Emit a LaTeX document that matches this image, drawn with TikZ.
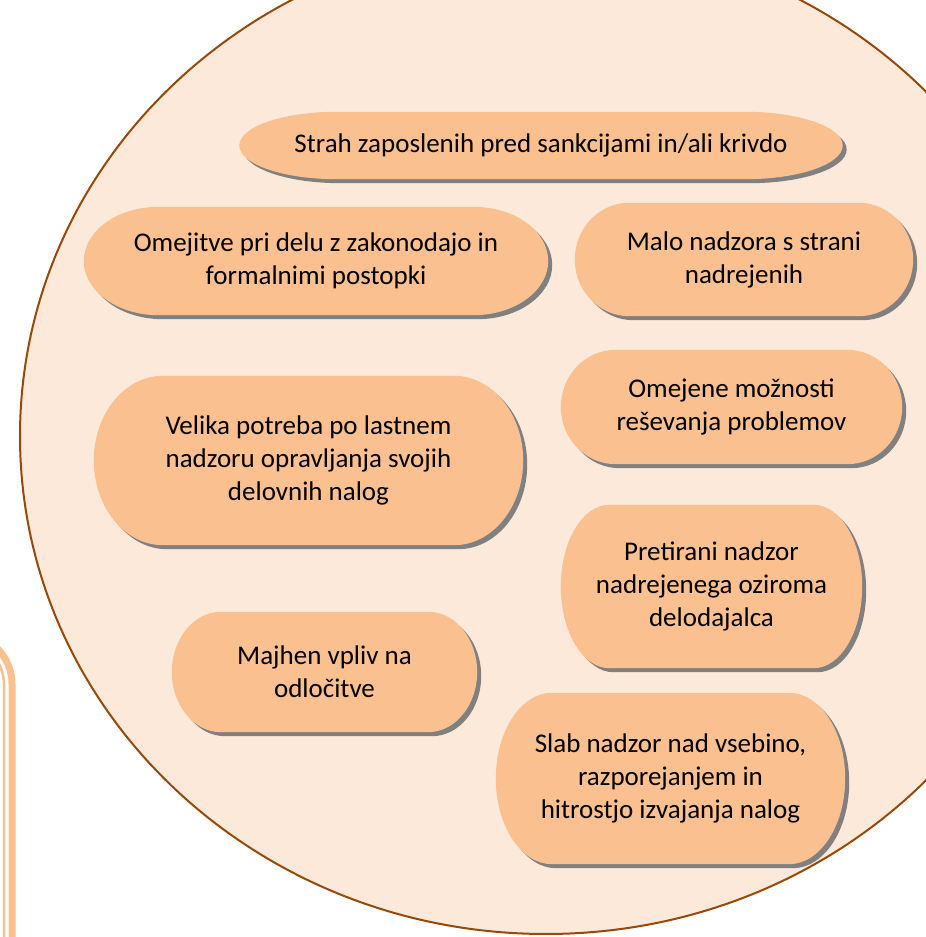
\documentclass[tikz,border=0pt]{standalone}
\usepackage{fontspec}
\setmainfont{Carlito}
\usetikzlibrary{calc,backgrounds}

\definecolor{polje}{HTML}{FAC090}
\definecolor{ozadje}{HTML}{FDE9D9}
\definecolor{obroba}{HTML}{984807}
\definecolor{senca}{HTML}{808080}

% Obris zaobljenega polja (konca sta polelipsi)
\newcommand{\pillpath}[1]{%
  let \p1=(#1.north west), \p2=(#1.south east),
      \n1={0.161*(\x2-\x1)}, \n2={(\y1-\y2)/2} in
  ({\x1+\n1},\y1) -- ({\x2-\n1},\y1)
  arc[start angle=90, end angle=-90, x radius=\n1, y radius=\n2]
  -- ({\x1+\n1},\y2)
  arc[start angle=270, end angle=90, x radius=\n1, y radius=\n2] -- cycle}

\begin{document}
\begin{tikzpicture}[x=1pt,y=1pt,
  pill/.style={inner sep=0pt, align=center, text=black,
    font=\fontsize{27}{33}\selectfont},
  kreis/.style={fill=ozadje, draw=obroba, line width=2pt},
  okvir/.style={draw=polje}]
  \useasboundingbox (0,0) rectangle (926,937);
  %Polja
  \node[pill, minimum width=603pt, minimum height=67pt] (strah) at (541,791.5)
    {Strah zaposlenih pred sankcijami in/ali krivdo};
  \node[pill, minimum width=464pt, minimum height=108pt] (omejitve) at (316,676)
    {Omejitve pri delu z zakonodajo in\\formalnimi postopki};
  \node[pill, minimum width=338pt, minimum height=113pt] (malo) at (744,677.5)
    {Malo nadzora s strani\\nadrejenih};
  \node[pill, minimum width=341pt, minimum height=114pt] (moznosti) at (731.5,530)
    {Omejene možnosti\\reševanja problemov};
  \node[pill, minimum width=429pt, minimum height=169pt] (velika) at (308.5,476.5)
    {Velika potreba po lastnem\\nadzoru opravljanja svojih\\delovnih nalog};
  \node[pill, minimum width=301pt, minimum height=163pt] (pretirani) at (711.5,350.5)
    {Pretirani nadzor\\nadrejenega oziroma\\delodajalca};
  \node[pill, minimum width=305pt, minimum height=120pt] (majhen) at (324.5,265)
    {Majhen vpliv na\\odločitve};
  \node[pill, minimum width=349pt, minimum height=171pt] (slab) at (670.5,158.5)
    {Slab nadzor nad vsebino,\\razporejanjem in\\hitrostjo izvajanja nalog};
  \begin{pgfonlayer}{background}
    \clip (0,0) rectangle (926,937);
    %Ozadje
    \draw[kreis] (546,501) ellipse [x radius=526, y radius=498];
    %Okvir levo spodaj
    \draw[okvir, line width=7pt] (12,0) -- (12,253) arc[start angle=0, end angle=90, radius=50];
    \draw[okvir, line width=2.5pt] (4,0) -- (4,253) arc[start angle=0, end angle=90, radius=42];
    %Sence in polnila
    \foreach \ime in {strah,omejitve,malo,moznosti,velika,pretirani,majhen,slab} {
      \fill[senca, transform canvas={shift={(4pt,-4pt)}}] \pillpath{\ime};
      \fill[polje] \pillpath{\ime};
    }
  \end{pgfonlayer}
\end{tikzpicture}
\end{document}
